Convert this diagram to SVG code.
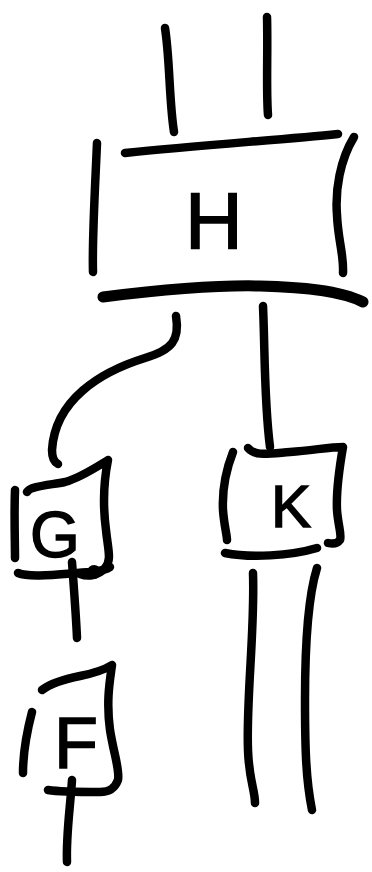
<svg xmlns="http://www.w3.org/2000/svg" width="372" height="872" viewBox="0 0 372 872">
<style>
.s{fill:none;stroke:#000;stroke-width:8.5;stroke-linecap:round;stroke-linejoin:round}
.t{font-family:"Liberation Sans","DejaVu Sans",sans-serif;fill:#000;stroke:#000;stroke-width:1.5;text-anchor:middle}
</style>
<rect width="372" height="872" fill="#fff"/>
<g id="connectors">
<path class="s" d="M165,28 C170,60 169,100 174,132"/>
<path class="s" d="M267,17 C268,50 266,90 268,115"/>
<path class="s" d="M176,316 C180,340 172,350 145,358 C100,372 55,400 52,450 C52,458 54,462 58,464"/>
<path class="s" d="M263,306 C265,350 264,400 270,447"/>
<path class="s" d="M72,562 C74,590 76,615 77,638"/>
<path class="s" d="M253,573 C255,630 246,700 248,750 C249,780 255,790 255,803"/>
<path class="s" d="M317,568 C307,600 305,650 305,700 C305,750 306,780 312,810"/>
<path class="s" d="M72,780 C70,810 66,835 67,862"/>
</g>
<g id="H">
<path class="s" d="M125,153 C200,145 280,140 338,134"/>
<path class="s" d="M97,143 C95,190 92,240 93,272"/>
<path class="s" d="M354,137 C340,160 335,190 337,215 C338,240 344,255 343,273"/>
<path class="s" style="stroke-width:11" d="M103,297 C160,290 220,285 260,286 C300,287 340,290 363,302"/>
<text class="t" x="214" y="248" font-size="80">H</text>
</g>
<g id="G">
<path class="s" d="M27,492 C30,486 50,485 65,482 C80,478 95,468 108,460 C104,480 102,500 106,530 C108,550 112,560 105,568 C98,576 88,577 80,574"/>
<path class="s" d="M15,490 C14,515 15,540 15,558"/>
<path class="s" d="M18,573 C30,578 60,574 90,572 C100,571 106,570 110,567"/>
<circle cx="94" cy="572" r="7"/>
<text class="t" x="55" y="557" font-size="64">G</text>
</g>
<g id="K">
<path class="s" d="M233,452 C226,470 222,490 223,510 C224,525 227,535 227,540"/>
<path class="s" d="M248,448 C255,456 265,454 290,452 C315,450 330,447 343,447 C339,470 336,490 337,510 C338,525 342,535 340,540 C337,544 332,544 328,543"/>
<path class="s" d="M225,553 C250,558 290,556 317,548"/>
<text class="t" x="291" y="527" font-size="60">K</text>
</g>
<g id="F">
<path class="s" d="M42,690 C50,684 60,680 80,676 C95,673 104,670 112,665 C110,680 106,700 110,730 C114,755 120,770 118,780 C115,788 110,792 100,792 C80,792 60,792 48,790"/>
<path class="s" d="M32,712 C26,735 23,755 23,773"/>
<text class="t" x="76" y="768" font-size="72">F</text>
</g>
</svg>
